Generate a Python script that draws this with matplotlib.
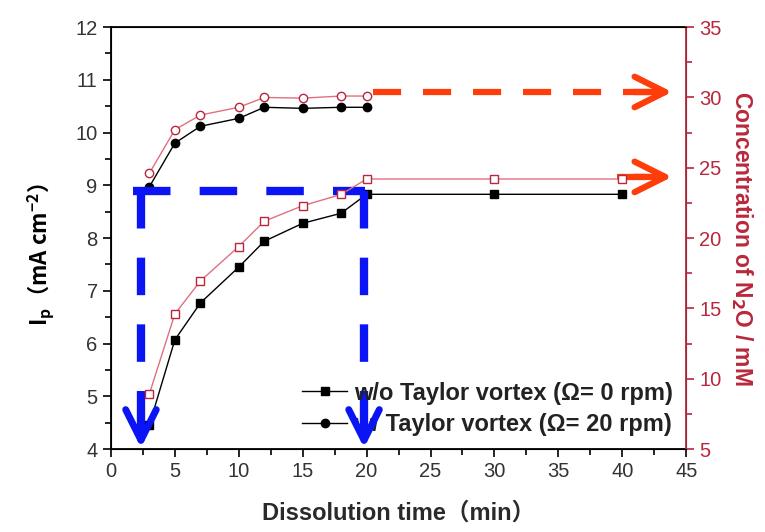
import matplotlib
matplotlib.use("Agg")
import matplotlib.pyplot as plt
import numpy as np
from matplotlib.ticker import MultipleLocator

plt.rcParams['font.family'] = ['Liberation Sans', 'Noto Sans CJK SC', 'DejaVu Sans']

# ---- data ----
t_wo = [3, 5, 7, 10, 12, 15, 18, 20, 30, 40]
ip_wo = [4.45, 6.07, 6.77, 7.45, 7.94, 8.28, 8.47, 8.83, 8.83, 8.83]
n2o_wo = [8.9, 14.6, 16.95, 19.4, 21.2, 22.3, 23.1, 24.2, 24.2, 24.2]

t_w = [3, 5, 7, 10, 12, 15, 18, 20]
ip_w = [8.97, 9.80, 10.12, 10.27, 10.48, 10.46, 10.48, 10.48]
n2o_w = [24.6, 27.7, 28.75, 29.3, 30.0, 29.95, 30.1, 30.1]

# guide arrows (data units of the left axis)
blue_y = 8.89
blue_x = [1.7, 19.9]
blue_drop_x = [2.35, 19.8]
orange_y = [10.77, 9.16]
orange_x0 = [20.5, 39.6]
orange_tip = 43.9

red_dark = "#b8283c"
red_line = "#e0707e"
blue = "#0a14f5"
orange = "#ff3d0a"

fig = plt.figure(figsize=(7.65, 5.32), dpi=100)
ax = fig.add_axes([0.145, 0.156, 0.752, 0.793])
ax2 = ax.twinx()

ax.plot(t_wo, ip_wo, color="black", lw=1, marker="s", ms=6, label="w/o Taylor vortex (\u03a9= 0 rpm)", zorder=3)
ax.plot(t_w, ip_w, color="black", lw=1, marker="o", ms=6, label="w/ Taylor vortex (\u03a9= 20 rpm)", zorder=3)
ax2.plot(t_wo, n2o_wo, color=red_line, lw=1, marker="s", ms=6, mfc="white", mec=red_dark, zorder=3)
ax2.plot(t_w, n2o_w, color=red_line, lw=1, marker="o", ms=6, mfc="white", mec=red_dark, zorder=3)

ax.set_xlim(0, 45)
ax.set_ylim(4, 12)
ax2.set_ylim(5, 35)
ax.xaxis.set_major_locator(MultipleLocator(5))
ax.xaxis.set_minor_locator(MultipleLocator(2.5))
ax.yaxis.set_major_locator(MultipleLocator(1))
ax.yaxis.set_minor_locator(MultipleLocator(0.5))
ax2.yaxis.set_major_locator(MultipleLocator(5))
ax2.yaxis.set_minor_locator(MultipleLocator(2.5))

ax.tick_params(which="both", direction="out", labelsize=14.5, labelcolor="#333333", width=1.2)
ax.tick_params(which="major", length=6)
ax.tick_params(which="minor", length=4)
ax2.tick_params(which="both", direction="out", labelsize=14.5, colors=red_dark, width=1.2)
ax2.tick_params(which="major", length=6)
ax2.tick_params(which="minor", length=4)
ax2.spines["right"].set_color(red_dark)
ax2.spines["right"].set_linewidth(1.3)
for s in ["left", "bottom", "top"]:
    ax.spines[s].set_linewidth(1.3)

ax.set_xlabel("Dissolution time\uff08min\uff09", fontsize=17, fontweight="bold", color="#2a2a2a", labelpad=15)
ax.set_ylabel("I$_\\mathregular{p}$\uff08mA cm$^{\\mathregular{-2}}$\uff09", fontsize=16, fontweight="bold",
              family=["Noto Sans CJK SC"])
ax.yaxis.set_label_coords(-0.095, 0.46)
ax2.set_ylabel("Concentration of N$_\\mathbf{2}$O / mM", fontsize=16.5, fontweight="bold",
               color=red_dark, rotation=270, labelpad=24)

# blue dashed guides with open arrow heads
ax.plot(blue_x, [blue_y, blue_y], color=blue, lw=6, dashes=(4.5, 3.5), solid_capstyle="butt", zorder=5, clip_on=False)
for bx in blue_drop_x:
    ax.plot([bx, bx], [blue_y, 4.35], color=blue, lw=6, dashes=(4.5, 3.5), zorder=5, clip_on=False)
    ax.annotate("", xy=(bx, 4.02), xytext=(bx, 4.6),
                arrowprops=dict(arrowstyle="->,head_length=1.1,head_width=0.55", color=blue, lw=5,
                                mutation_scale=20, shrinkA=0, shrinkB=0), zorder=6, annotation_clip=False)

# orange dashed arrows to the right axis
for oy, ox in zip(orange_y, orange_x0):
    ax.plot([ox, orange_tip - 0.6], [oy, oy], color=orange, lw=4.5, dashes=(4.5, 3.5), zorder=5)
    ax.annotate("", xy=(orange_tip, oy), xytext=(orange_tip - 3, oy),
                arrowprops=dict(arrowstyle="->,head_length=1.1,head_width=0.55", color=orange, lw=4.5,
                                mutation_scale=20, shrinkA=0, shrinkB=0), zorder=6)

leg = ax.legend(loc="lower right", bbox_to_anchor=(1.0, 0.0), frameon=False, fontsize=17,
                handlelength=1.9, handletextpad=0.3, labelspacing=0.35, borderaxespad=0.15)
for txt in leg.get_texts():
    txt.set_fontweight("bold")
    txt.set_color("#222222")

fig.savefig("out.png", dpi=100)
